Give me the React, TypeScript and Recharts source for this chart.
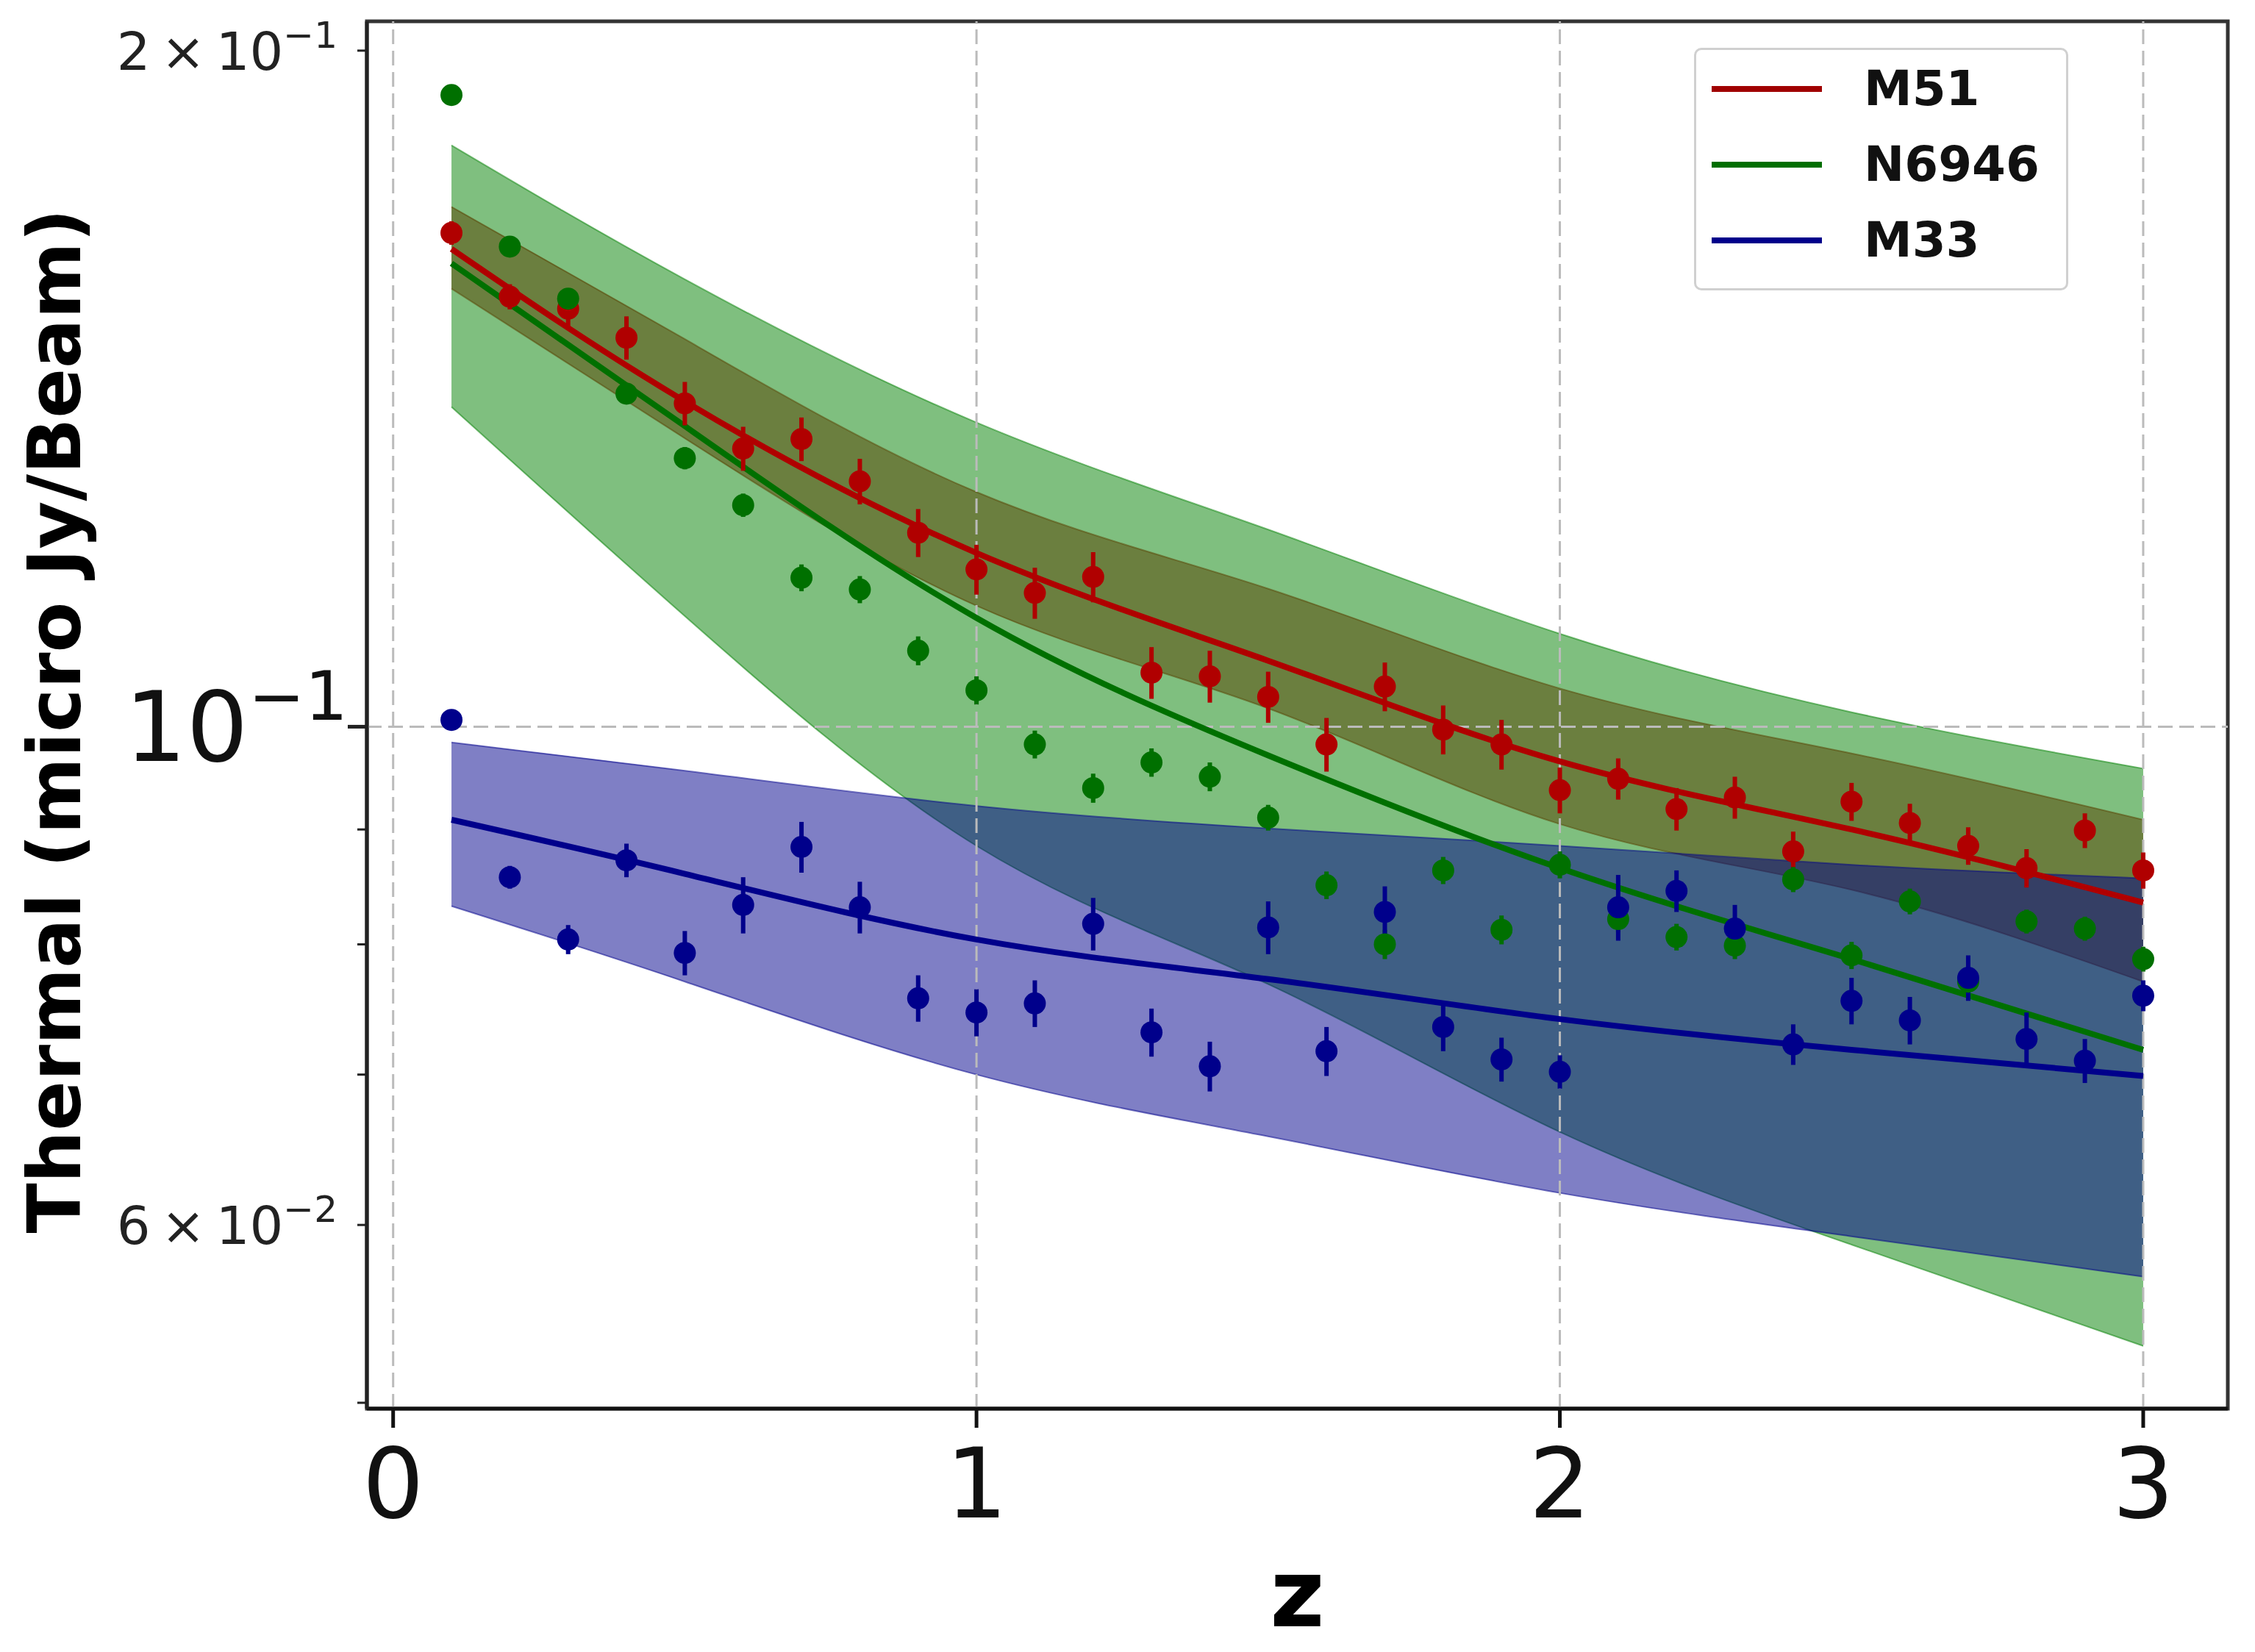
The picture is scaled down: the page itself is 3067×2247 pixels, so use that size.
import React from 'react';
import {
  ComposedChart,
  Area,
  Line,
  Scatter,
  ErrorBar,
  XAxis,
  YAxis,
  ReferenceLine,
  ReferenceArea,
} from 'recharts';

// redshift bins of the measured points
const zValues = [
  0.1, 0.2, 0.3, 0.4, 0.5, 0.6, 0.7, 0.8, 0.9, 1.0,
  1.1, 1.2, 1.3, 1.4, 1.5, 1.6, 1.7, 1.8, 1.9, 2.0,
  2.1, 2.2, 2.3, 2.4, 2.5, 2.6, 2.7, 2.8, 2.9, 3.0,
];

const m51Values = [
  0.1659, 0.1554, 0.1535, 0.149, 0.1393, 0.133, 0.1343, 0.1286, 0.122, 0.1175,
  0.1147, 0.1166, 0.1057, 0.1053, 0.1031, 0.0982, 0.1042, 0.0997, 0.0982, 0.0937,
  0.0948, 0.0919, 0.093, 0.088, 0.0926, 0.0906, 0.0885, 0.0865, 0.0899, 0.0863,
];
const m51Err = [
  0.002, 0.002, 0.003, 0.0033, 0.0031, 0.003, 0.003, 0.003, 0.003, 0.003,
  0.003, 0.003, 0.0028, 0.0028, 0.0027, 0.0027, 0.0026, 0.0025, 0.0025, 0.0022,
  0.002, 0.002, 0.002, 0.0018, 0.0018, 0.0018, 0.0017, 0.0017, 0.0016, 0.0016,
];

const n6946Values = [
  0.1911, 0.1636, 0.1551, 0.1407, 0.1317, 0.1255, 0.1165, 0.1151, 0.1081, 0.1038,
  0.0982, 0.0939, 0.0964, 0.095, 0.0911, 0.085, 0.08, 0.0863, 0.0812, 0.0868,
  0.0821, 0.0806, 0.0799, 0.0855, 0.0791, 0.0836, 0.077, 0.0819, 0.0813, 0.0788,
];
const n6946Err = [
  0.001, 0.001, 0.001, 0.0015, 0.0015, 0.0015, 0.0016, 0.0016, 0.0016, 0.0015,
  0.0014, 0.0014, 0.0014, 0.0014, 0.0012, 0.0012, 0.0012, 0.0012, 0.0012, 0.0012,
  0.0011, 0.0011, 0.0011, 0.0011, 0.0011, 0.0011, 0.0011, 0.001, 0.001, 0.001,
];

const m33Values = [
  0.1007, 0.0857, 0.0804, 0.0872, 0.0793, 0.0833, 0.0884, 0.0831, 0.0757, 0.0746,
  0.0753, 0.0817, 0.0731, 0.0706, 0.0814, 0.0717, 0.0827, 0.0735, 0.0711, 0.0702,
  0.0831, 0.0845, 0.0813, 0.0722, 0.0755, 0.074, 0.0773, 0.0726, 0.071, 0.0759,
];
const m33Err = [
  0.001, 0.001, 0.0012, 0.0015, 0.0018, 0.0024, 0.0023, 0.0022, 0.0018, 0.0018,
  0.0018, 0.0022, 0.0018, 0.0018, 0.0022, 0.0018, 0.0022, 0.0018, 0.0016, 0.0012,
  0.0028, 0.0018, 0.002, 0.0015, 0.0018, 0.0018, 0.0018, 0.002, 0.0016, 0.0012,
];

// fitted curves and their uncertainty bands, read at these z
const fitZ = [0.1, 0.5, 1.0, 1.5, 2.0, 2.5, 3.0];

const m51Fit = [0.1632, 0.1396, 0.1195, 0.107, 0.0965, 0.09, 0.0835];
const m51Lo = [0.1567, 0.1344, 0.1132, 0.1019, 0.0905, 0.0846, 0.077];
const m51Hi = [0.1704, 0.1488, 0.1272, 0.1152, 0.104, 0.0973, 0.0909];

const n6946Fit = [0.1608, 0.1361, 0.1118, 0.0971, 0.0865, 0.0788, 0.0718];
const n6946Lo = [0.1388, 0.112, 0.0885, 0.0768, 0.066, 0.0588, 0.053];
const n6946Hi = [0.1815, 0.1582, 0.1366, 0.1224, 0.11, 0.1015, 0.0958];

const m33Fit = [0.0909, 0.086, 0.0804, 0.0772, 0.0741, 0.0718, 0.0699];
const m33Lo = [0.0832, 0.077, 0.07, 0.0657, 0.062, 0.0593, 0.0569];
const m33Hi = [0.0984, 0.0956, 0.0922, 0.0901, 0.0885, 0.0868, 0.0856];

const xTicks = [0, 1, 2, 3];
const yTicks = [0.05, 0.06, 0.07, 0.08, 0.09, 0.1, 0.2];
// tick label text: [mantissa, exponent]
const yTickLabels: Record<string, [string, string]> = {
  '0.2': ['2\u2009×\u200910', '\u22121'],
  '0.1': ['10', '\u22121'],
  '0.06': ['6\u2009×\u200910', '\u22122'],
};

const legendItems = [
  { name: 'M51', color: '#a00000' },
  { name: 'N6946', color: '#006e00' },
  { name: 'M33', color: '#00008b' },
];

const RED = '#b00000';
const GREEN = '#007000';
const BLUE = '#00008b';
const FONT = 'DejaVu Sans';

const fitRows = fitZ.map((z, i) => ({
  z,
  m51: m51Fit[i],
  m51Band: [m51Lo[i], m51Hi[i]],
  n6946: n6946Fit[i],
  n6946Band: [n6946Lo[i], n6946Hi[i]],
  m33: m33Fit[i],
  m33Band: [m33Lo[i], m33Hi[i]],
}));

const toPoints = (vals: number[], errs: number[]) =>
  zValues.map((z, i) => ({ z, v: vals[i], err: errs[i] }));

const m51Points = toPoints(m51Values, m51Err);
const n6946Points = toPoints(n6946Values, n6946Err);
const m33Points = toPoints(m33Values, m33Err);

const dot = (color: string) => (p: any) => (
  <circle cx={p.cx} cy={p.cy} r={15} fill={color} />
);

const XTick = (props: any) => {
  const { x, y, payload } = props;
  return (
    <text x={x} y={y + 122} textAnchor="middle" fontSize={132} fontFamily={FONT} fill="#111">
      {payload.value}
    </text>
  );
};

const YTick = (props: any) => {
  const { x, y, payload } = props;
  const v = payload.value;
  const major = v === 0.1;
  const len = major ? 26 : 13;
  const lab = yTickLabels[String(v)];
  return (
    <g>
      <line x1={x} x2={x - len} y1={y} y2={y} stroke="#222" strokeWidth={major ? 5 : 3} />
      {lab && major && (
        <text x={x - 26} y={y + 47} textAnchor="end" fontSize={132} fontFamily={FONT} fill="#111">
          {lab[0]}
          <tspan fontSize={92} dy={-56}>{lab[1]}</tspan>
        </text>
      )}
      {lab && !major && (
        <text x={x - 40} y={y + 26} textAnchor="end" fontSize={72} fontFamily={FONT} fill="#222">
          {lab[0]}
          <tspan fontSize={50} dy={-30}>{lab[1]}</tspan>
        </text>
      )}
    </g>
  );
};

export default function App() {
  return (
    <div style={{ position: 'absolute', left: 0, top: 0, width: 3067, height: 2247, background: '#fff' }}>
      <ComposedChart
        width={3067}
        height={2247}
        data={fitRows}
        margin={{ top: 29, right: 37, bottom: 131, left: 299 }}
      >
        <XAxis
          dataKey="z"
          type="number"
          domain={[-0.045, 3.145]}
          allowDataOverflow
          ticks={xTicks}
          interval={0}
          height={200}
          tickSize={26}
          tickMargin={0}
          tick={<XTick />}
          tickLine={{ stroke: '#111', strokeWidth: 5 }}
          axisLine={{ stroke: '#111', strokeWidth: 5 }}
          label={{
            content: (p: any) => (
              <text
                x={p.viewBox.x + p.viewBox.width / 2}
                y={2212}
                textAnchor="middle"
                fontSize={128}
                fontWeight="bold"
                fontFamily={FONT}
                fill="#000"
              >
                z
              </text>
            ),
          }}
        />
        <YAxis
          type="number"
          scale="log"
          domain={[0.0497, 0.2061]}
          allowDataOverflow
          ticks={yTicks}
          interval={0}
          width={200}
          tickSize={0}
          tickMargin={0}
          tickLine={false}
          tick={<YTick />}
          axisLine={{ stroke: '#222', strokeWidth: 5 }}
          label={{
            content: (p: any) => {
              const cy = p.viewBox.y + p.viewBox.height / 2 + 8;
              return (
                <text
                  x={109}
                  y={cy}
                  transform={`rotate(-90 109 ${cy})`}
                  textAnchor="middle"
                  fontSize={100}
                  fontWeight="bold"
                  fontFamily={FONT}
                  fill="#000"
                >
                  Thermal (micro Jy/Beam)
                </text>
              );
            },
          }}
        />

        <Area
          dataKey="m51Band"
          type="natural"
          fill={RED}
          fillOpacity={0.5}
          stroke={RED}
          strokeOpacity={0.5}
          strokeWidth={2}
          isAnimationActive={false}
        />
        <Area
          dataKey="n6946Band"
          type="natural"
          fill="#008000"
          fillOpacity={0.5}
          stroke="#008000"
          strokeOpacity={0.5}
          strokeWidth={2}
          isAnimationActive={false}
        />
        <Area
          dataKey="m33Band"
          type="natural"
          fill={BLUE}
          fillOpacity={0.5}
          stroke={BLUE}
          strokeOpacity={0.5}
          strokeWidth={2}
          isAnimationActive={false}
        />

        {xTicks.map((t) => (
          <ReferenceLine key={t} x={t} stroke="#bbbbbb" strokeWidth={3} strokeDasharray="20 9" />
        ))}
        <ReferenceLine y={0.1} stroke="#bbbbbb" strokeWidth={3} strokeDasharray="20 9" />

        <Line dataKey="m51" name="M51" type="natural" stroke={RED} strokeWidth={8} dot={false} isAnimationActive={false} />
        <Line dataKey="n6946" name="N6946" type="natural" stroke={GREEN} strokeWidth={8} dot={false} isAnimationActive={false} />
        <Line dataKey="m33" name="M33" type="natural" stroke={BLUE} strokeWidth={8} dot={false} isAnimationActive={false} />

        <Scatter data={m51Points} dataKey="v" fill={RED} shape={dot(RED)} isAnimationActive={false}>
          <ErrorBar dataKey="err" direction="y" width={0} stroke={RED} strokeWidth={6} />
        </Scatter>
        <Scatter data={n6946Points} dataKey="v" fill={GREEN} shape={dot(GREEN)} isAnimationActive={false}>
          <ErrorBar dataKey="err" direction="y" width={0} stroke={GREEN} strokeWidth={6} />
        </Scatter>
        <Scatter data={m33Points} dataKey="v" fill={BLUE} shape={dot(BLUE)} isAnimationActive={false}>
          <ErrorBar dataKey="err" direction="y" width={0} stroke={BLUE} strokeWidth={6} />
        </Scatter>

        <ReferenceArea
          x1={-0.045}
          x2={3.145}
          y1={0.0497}
          y2={0.2061}
          fill="none"
          stroke="#333"
          strokeWidth={5}
          ifOverflow="visible"
        />
      </ComposedChart>

      <div
        style={{
          position: 'absolute',
          left: 2304,
          top: 65,
          width: 509,
          height: 330,
          boxSizing: 'border-box',
          border: '3px solid #d0d0d0',
          borderRadius: 10,
          background: 'rgba(255,255,255,0.8)',
          fontFamily: FONT,
        }}
      >
        {legendItems.map((item, i) => (
          <div
            key={item.name}
            style={{ position: 'absolute', left: 21, top: 53 + i * 103, display: 'flex', alignItems: 'center', height: 0 }}
          >
            <div style={{ width: 150, height: 8, background: item.color }} />
            <span style={{ marginLeft: 57, fontSize: 66, fontWeight: 'bold', color: '#111', lineHeight: '66px' }}>
              {item.name}
            </span>
          </div>
        ))}
      </div>
    </div>
  );
}
